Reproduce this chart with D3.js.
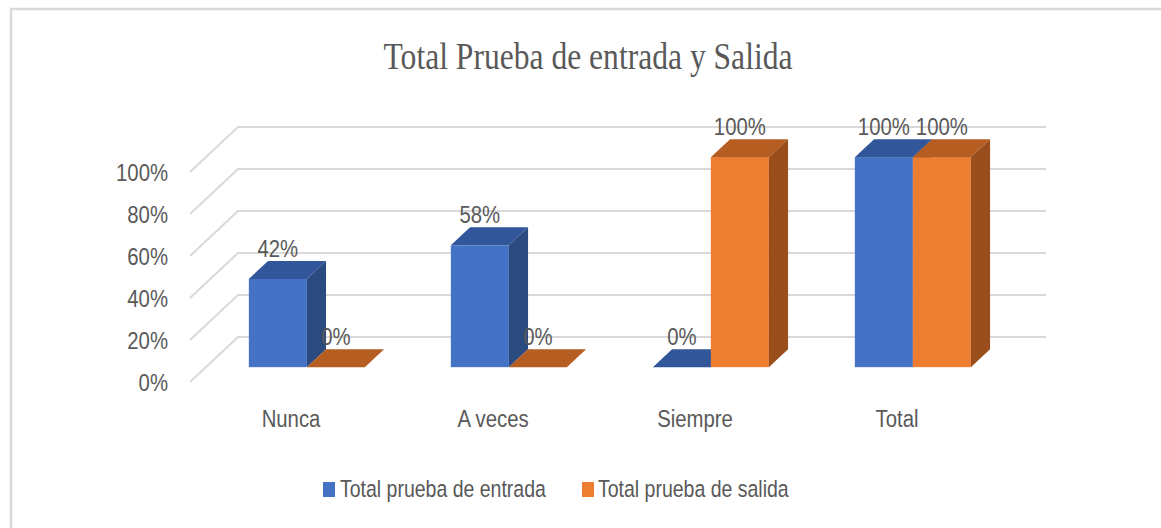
<!DOCTYPE html>
<html><head><meta charset="utf-8">
<script src="https://cdn.jsdelivr.net/npm/d3@7"></script>
<style>html,body{margin:0;padding:0;background:#fff;}svg{display:block;}</style>
</head><body>
<svg id="chart" width="1161" height="528"></svg>
<script>
const categories = ["Nunca", "A veces", "Siempre", "Total"];
const seriesNames = ["Total prueba de entrada", "Total prueba de salida"];
const entrada = [0.42, 0.58, 0.0, 1.0];
const salida = [0.0, 0.0, 1.0, 1.0];
const yTicks = [0, 0.2, 0.4, 0.6, 0.8, 1.0];
const titleText = "Total Prueba de entrada y Salida";

const colors = [
  {front: "#4472C4", top: "#31569A", side: "#2A4A80"},
  {front: "#ED7D31", top: "#B65D21", side: "#994E1C"}
];

const svg = d3.select("#chart");
const textCol = "#595959";
function txt(x, y, s, size, anchor, family, sx) {
  const g = svg.append("g").attr("transform", `translate(${x},${y}) scale(${sx || 0.83},1)`);
  g.append("text").attr("x", 0).attr("y", 0).attr("text-anchor", anchor || "middle")
    .attr("font-family", family || "'Liberation Sans', Arial, sans-serif")
    .attr("font-size", size).attr("fill", textCol).text(s);
  return g;
}

// frame
svg.append("rect").attr("x", 11).attr("y", 9).attr("width", 1300).attr("height", 700)
  .attr("fill", "none").attr("stroke", "#d9d9d9").attr("stroke-width", 2.5);

// scales (front plane)
const x = d3.scaleBand().domain(categories).range([190, 998]).paddingInner(0).paddingOuter(0);
const y = d3.scaleLinear().domain([0, 1]).range([382, 172]);
const depth = {dx: 48, dy: -45};
const barFront = 0.33, barDepth = 0.40;
const bw = 58;
const groupOffset = (x.bandwidth() - 2 * bw) / 2;

// gridlines
yTicks.forEach(t => {
  const y0 = y(t);
  svg.append("path")
    .attr("d", `M190,${y0} L${190 + depth.dx},${y0 + depth.dy} L${x.range()[1] + depth.dx},${y0 + depth.dy}`)
    .attr("fill", "none").attr("stroke", "#d9d9d9").attr("stroke-width", 2);
  txt(168, y0 + 9, d3.format(".0%")(t), 24.5, "end");
});

// bars
const series = [entrada, salida];
const labels = [];
categories.forEach((c, i) => {
  series.forEach((vals, s) => {
    const v = vals[i];
    const ox = depth.dx * barFront, oy = depth.dy * barFront;
    const ddx = depth.dx * barDepth, ddy = depth.dy * barDepth;
    const x0 = x(c) + groupOffset + s * bw + ox;
    const x1 = x0 + bw;
    const yb = y(0) + oy, yt = y(v) + oy;
    const col = colors[s];
    const g = svg.append("g");
    if (yb - yt > 0.5) {
      g.append("rect").attr("x", x0).attr("y", yt).attr("width", bw).attr("height", yb - yt).attr("fill", col.front);
    }
    g.append("path").attr("d", `M${x0},${yt} L${x0 + ddx},${yt + ddy} L${x1 + ddx},${yt + ddy} L${x1},${yt} Z`).attr("fill", col.top);
    if (yb - yt > 0.5) {
      g.append("path").attr("d", `M${x1},${yb} L${x1 + ddx},${yb + ddy} L${x1 + ddx},${yt + ddy} L${x1},${yt} Z`).attr("fill", col.side);
    }
    labels.push({x: (x0 + x1) / 2, y: yt + ddy - 4, t: d3.format(".0%")(v)});
  });
});
labels.forEach(l => txt(l.x, l.y, l.t, 24.5, "middle"));

// category labels
categories.forEach(c => txt(x(c) + x.bandwidth() / 2, 427, c, 24.5, "middle"));

// title
txt(588, 69, titleText, 39, "middle", "'Liberation Serif', 'Times New Roman', serif", 0.81);

// legend
const legendItems = [{x: 323, tx: 340}, {x: 582, tx: 598}];
seriesNames.forEach((n, i) => {
  svg.append("rect").attr("x", legendItems[i].x).attr("y", 482).attr("width", 12).attr("height", 15).attr("fill", colors[i].front);
  txt(legendItems[i].tx, 497, n, 23.5, "start");
});
</script>
</body></html>
